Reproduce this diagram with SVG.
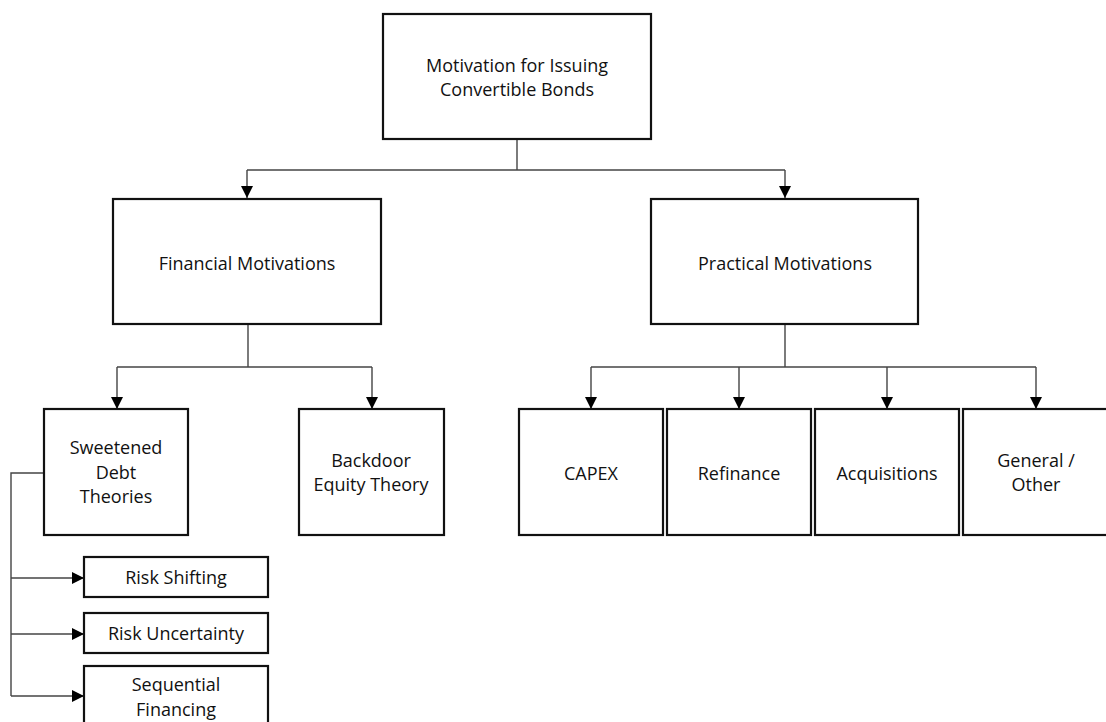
<svg xmlns="http://www.w3.org/2000/svg" width="1106" height="722" viewBox="0 0 1106 722">
<style>
.box{fill:#fff;stroke:#111;stroke-width:2.2}
.t{font-family:"Open Sans","Liberation Sans",sans-serif;font-size:18px;fill:#111;text-anchor:middle}
.c{fill:none;stroke:#444;stroke-width:1.4}
</style>
<defs>
<marker id="ah" viewBox="0 0 10 10" refX="10" refY="5" markerWidth="12" markerHeight="12" markerUnits="userSpaceOnUse" orient="auto">
<path d="M0,0 L10,5 L0,10 Z" fill="#000"/>
</marker>
</defs>
<rect width="1106" height="722" fill="#fff"/>
<g id="connectors">
<path class="c" d="M517,139 V170"/>
<path class="c" d="M247,170 H785"/>
<path class="c" d="M247,170 V198" marker-end="url(#ah)"/>
<path class="c" d="M785,170 V198" marker-end="url(#ah)"/>
<path class="c" d="M248,324 V367"/>
<path class="c" d="M117,367 H372"/>
<path class="c" d="M117,367 V409" marker-end="url(#ah)"/>
<path class="c" d="M372,367 V409" marker-end="url(#ah)"/>
<path class="c" d="M785,324 V367"/>
<path class="c" d="M591,367 H1036"/>
<path class="c" d="M591,367 V409" marker-end="url(#ah)"/>
<path class="c" d="M739,367 V409" marker-end="url(#ah)"/>
<path class="c" d="M887,367 V409" marker-end="url(#ah)"/>
<path class="c" d="M1036,367 V409" marker-end="url(#ah)"/>
<path class="c" d="M44,473 H11 V696"/>
<path class="c" d="M11,578 H84" marker-end="url(#ah)"/>
<path class="c" d="M11,634 H84" marker-end="url(#ah)"/>
<path class="c" d="M11,696 H84" marker-end="url(#ah)"/>
</g>
<g id="root">
<rect class="box" x="383" y="14" width="268" height="125"/>
<text class="t" x="517" y="72">Motivation for Issuing</text>
<text class="t" x="517" y="96">Convertible Bonds</text>
</g>
<g id="financial">
<rect class="box" x="113" y="199" width="268" height="125"/>
<text class="t" x="247" y="270">Financial Motivations</text>
</g>
<g id="practical">
<rect class="box" x="651" y="199" width="267" height="125"/>
<text class="t" x="785" y="270">Practical Motivations</text>
</g>
<g id="sweetened">
<rect class="box" x="44" y="409" width="144" height="126"/>
<text class="t" x="116" y="454">Sweetened</text>
<text class="t" x="116" y="479">Debt</text>
<text class="t" x="116" y="503">Theories</text>
</g>
<g id="backdoor">
<rect class="box" x="299" y="409" width="145" height="126"/>
<text class="t" x="371" y="467">Backdoor</text>
<text class="t" x="371" y="491">Equity Theory</text>
</g>
<g id="capex">
<rect class="box" x="519" y="409" width="144" height="126"/>
<text class="t" x="591" y="480">CAPEX</text>
</g>
<g id="refinance">
<rect class="box" x="667" y="409" width="144" height="126"/>
<text class="t" x="739" y="480">Refinance</text>
</g>
<g id="acquisitions">
<rect class="box" x="815" y="409" width="144" height="126"/>
<text class="t" x="887" y="480">Acquisitions</text>
</g>
<g id="general">
<rect class="box" x="963" y="409" width="150" height="126"/>
<text class="t" x="1036" y="467">General /</text>
<text class="t" x="1036" y="491">Other</text>
</g>
<g id="risk-shifting">
<rect class="box" x="84" y="557" width="184" height="40"/>
<text class="t" x="176" y="584">Risk Shifting</text>
</g>
<g id="risk-uncertainty">
<rect class="box" x="84" y="613" width="184" height="40"/>
<text class="t" x="176" y="640">Risk Uncertainty</text>
</g>
<g id="sequential">
<rect class="box" x="84" y="666" width="184" height="70"/>
<text class="t" x="176" y="691">Sequential</text>
<text class="t" x="176" y="716">Financing</text>
</g>
</svg>
